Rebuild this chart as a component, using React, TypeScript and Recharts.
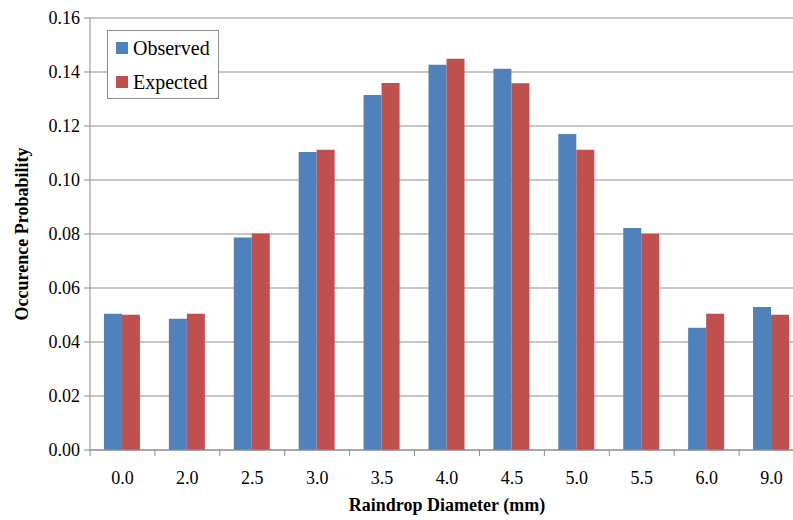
import { BarChart, Bar, XAxis, YAxis, CartesianGrid, Legend, Label } from 'recharts';

const diameters = ['0.0', '2.0', '2.5', '3.0', '3.5', '4.0', '4.5', '5.0', '5.5', '6.0', '9.0'];
const observed = [0.0505, 0.0486, 0.0787, 0.1104, 0.1315, 0.1427, 0.1412, 0.117, 0.0822, 0.0453, 0.053];
const expected = [0.0501, 0.0505, 0.0802, 0.1112, 0.1359, 0.1449, 0.1358, 0.1112, 0.0801, 0.0505, 0.0501];
const seriesNames = ['Observed', 'Expected'];
const yTicks = [0, 0.02, 0.04, 0.06, 0.08, 0.1, 0.12, 0.14, 0.16];

const data = diameters.map((d, i) => ({ d, observed: observed[i], expected: expected[i] }));

const FONT = '"Liberation Serif", serif';
const GRID = '#8c8c8c';
const W = 808;
const H = 520;
const M = { top: 18, right: 4, left: 0, bottom: 0 };
const Y_W = 90;
const BAND = (W - M.left - M.right - Y_W) / diameters.length;

function XTick(props: any) {
  const { x, y, payload, index } = props;
  const axisY = y - 8;
  const left = x - BAND / 2;
  return (
    <g>
      <line x1={left} y1={axisY} x2={left} y2={axisY + 6} stroke={GRID} />
      {index === diameters.length - 1 && (
        <line x1={x + BAND / 2} y1={axisY} x2={x + BAND / 2} y2={axisY + 6} stroke={GRID} />
      )}
      <text x={x} y={axisY + 34} textAnchor="middle" fontFamily={FONT} fontSize={18} fill="#000">
        {payload.value}
      </text>
    </g>
  );
}

function LegendBox(props: any) {
  const items = [...(props.payload || [])].sort(
    (a: any, b: any) => seriesNames.indexOf(a.value) - seriesNames.indexOf(b.value)
  );
  return (
    <div
      style={{
        width: 112,
        height: 69,
        boxSizing: 'border-box',
        border: `1px solid ${GRID}`,
        background: '#fff',
        fontFamily: FONT,
        fontSize: 20,
        color: '#000',
      }}
    >
      {items.map((it: any) => (
        <div key={it.value} style={{ height: 34, display: 'flex', alignItems: 'center', paddingLeft: 8 }}>
          <span style={{ width: 12, height: 12, background: it.color, display: 'inline-block', marginRight: 5 }} />
          <span>{it.value}</span>
        </div>
      ))}
    </div>
  );
}

export default function App() {
  return (
    <div style={{ position: 'fixed', left: 0, top: 0, width: 793, height: H, overflow: 'hidden', background: '#fff' }}>
      <BarChart width={W} height={H} data={data} margin={M} barCategoryGap="21.5%" barGap={0}>
        <CartesianGrid horizontal vertical={false} stroke={GRID} strokeWidth={1} />
        <XAxis
          dataKey="d"
          height={H - M.top - M.bottom - 432}
          axisLine={{ stroke: GRID }}
          tickLine={false}
          tick={<XTick />}
          interval={0}
        >
          <Label
            value="Raindrop Diameter (mm)"
            position="insideBottom"
            offset={9}
            style={{ fontFamily: FONT, fontSize: 18, fontWeight: 'bold', fill: '#000' }}
          />
        </XAxis>
        <YAxis
          width={Y_W}
          domain={[0, 0.16]}
          ticks={yTicks}
          interval={0}
          tickFormatter={(v: number) => v.toFixed(2)}
          axisLine={{ stroke: GRID }}
          tickLine={{ stroke: GRID }}
          tickSize={6}
          tickMargin={4}
          tick={{ fontFamily: FONT, fontSize: 18, fill: '#000' }}
        >
          <Label
            value="Occurence Probability"
            angle={-90}
            position="insideLeft"
            offset={22}
            style={{ fontFamily: FONT, fontSize: 18, fontWeight: 'bold', fill: '#000', textAnchor: 'middle' }}
          />
        </YAxis>
        <Legend
          layout="vertical"
          align="center"
          verticalAlign="middle"
          content={<LegendBox />}
          wrapperStyle={{ left: 107, top: 30, width: 112, height: 69 }}
        />
        <Bar dataKey="observed" name="Observed" fill="#4f81bd" isAnimationActive={false} />
        <Bar dataKey="expected" name="Expected" fill="#c0504d" isAnimationActive={false} />
      </BarChart>
    </div>
  );
}
